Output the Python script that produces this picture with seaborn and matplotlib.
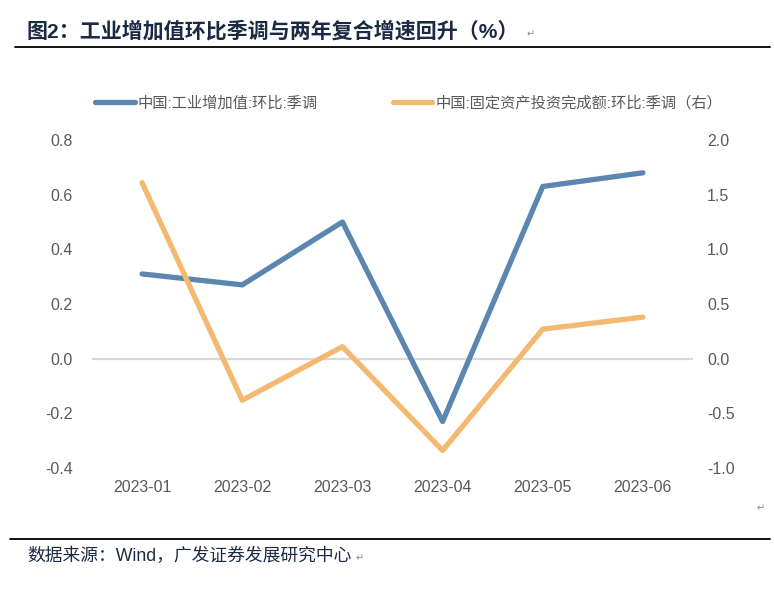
import numpy as np
import pandas as pd
import matplotlib
matplotlib.use("Agg")
import matplotlib.pyplot as plt
import seaborn as sns

months = ["2023-01", "2023-02", "2023-03", "2023-04", "2023-05", "2023-06"]
industry_mom = [0.31, 0.27, 0.50, -0.23, 0.63, 0.68]
fai_mom = [1.61, -0.38, 0.11, -0.84, 0.27, 0.38]

left_ticks = [-0.4, -0.2, 0.0, 0.2, 0.4, 0.6, 0.8]
right_ticks = [-1.0, -0.5, 0.0, 0.5, 1.0, 1.5, 2.0]

label_industry = "中国:工业增加值:环比:季调"
label_fai = "中国:固定资产投资完成额:环比:季调（右）"
title = "图2：工业增加值环比季调与两年复合增速回升（%）"
source = "数据来源：Wind，广发证券发展研究中心"

blue = "#5B86B0"
orange = "#F3B971"
gray_text = "#595959"
navy = "#1B2A44"

sns.set_style("white")
plt.rcParams["font.family"] = ["Liberation Sans", "Noto Sans CJK SC", "DejaVu Sans"]

df = pd.DataFrame({"month": months, "industry": industry_mom, "fai": fai_mom})

fig = plt.figure(figsize=(7.74, 5.94), dpi=100)
ax = fig.add_axes([92 / 774, 1 - 468 / 594, 601 / 774, 328 / 594])
ax2 = ax.twinx()

ax.axhline(0, color="#D9D9D9", lw=1.6, zorder=1)
sns.lineplot(data=df, x="month", y="industry", ax=ax, color=blue, lw=3.8,
             label=label_industry, legend=False, zorder=3)
sns.lineplot(data=df, x="month", y="fai", ax=ax2, color=orange, lw=3.8,
             label=label_fai, legend=False, zorder=2)

ax.set_xlim(-0.5, 5.5)
ax.set_ylim(-0.4, 0.8)
ax2.set_ylim(-1.0, 2.0)
ax.set_yticks(left_ticks)
ax.set_yticklabels([f"{v:.1f}" for v in left_ticks])
ax2.set_yticks(right_ticks)
ax2.set_yticklabels([f"{v:.1f}" for v in right_ticks])
ax.set_xlabel("")
ax.set_ylabel("")
ax2.set_ylabel("")

for a in (ax, ax2):
    for s in a.spines.values():
        s.set_visible(False)
    a.patch.set_alpha(0)
ax.tick_params(axis="y", length=0, pad=14, labelsize=11.5, labelcolor=gray_text)
ax.tick_params(axis="x", length=0, pad=9, labelsize=11.5, labelcolor=gray_text)
ax2.tick_params(axis="y", length=0, pad=10, labelsize=11.5, labelcolor=gray_text)

# legend from both axes
h1, l1 = ax.get_legend_handles_labels()
h2, l2 = ax2.get_legend_handles_labels()
fig.legend(h1 + h2, l1 + l2, loc="center", bbox_to_anchor=(0.528, 1 - 103 / 594),
           ncol=2, frameon=False, fontsize=11, labelcolor=gray_text,
           handlelength=2.6, handletextpad=0.2, columnspacing=4.9)

# title, rules and source
fig.text(27 / 774, 1 - 31 / 594, title, fontsize=15.1, fontweight="bold", color=navy,
         va="center", ha="left")
fig.text(527 / 774, 1 - 34 / 594, "↵", fontsize=7, color="#888888", va="center",
         family="DejaVu Sans")
fig.add_artist(plt.Line2D([15 / 774, 770 / 774], [1 - 47 / 594] * 2, color="black", lw=1.3))
fig.text(757 / 774, 1 - 508 / 594, "↵", fontsize=7, color="#888888", va="center",
         family="DejaVu Sans")
fig.add_artist(plt.Line2D([10 / 774, 770 / 774], [1 - 539 / 594] * 2, color="black", lw=1.3))
fig.text(27 / 774, 1 - 556 / 594, source, fontsize=12.8, color=navy, va="center", ha="left")
fig.text(356 / 774, 1 - 558 / 594, "↵", fontsize=7, color="#888888", va="center",
         family="DejaVu Sans")

fig.savefig("out.png", dpi=100)
